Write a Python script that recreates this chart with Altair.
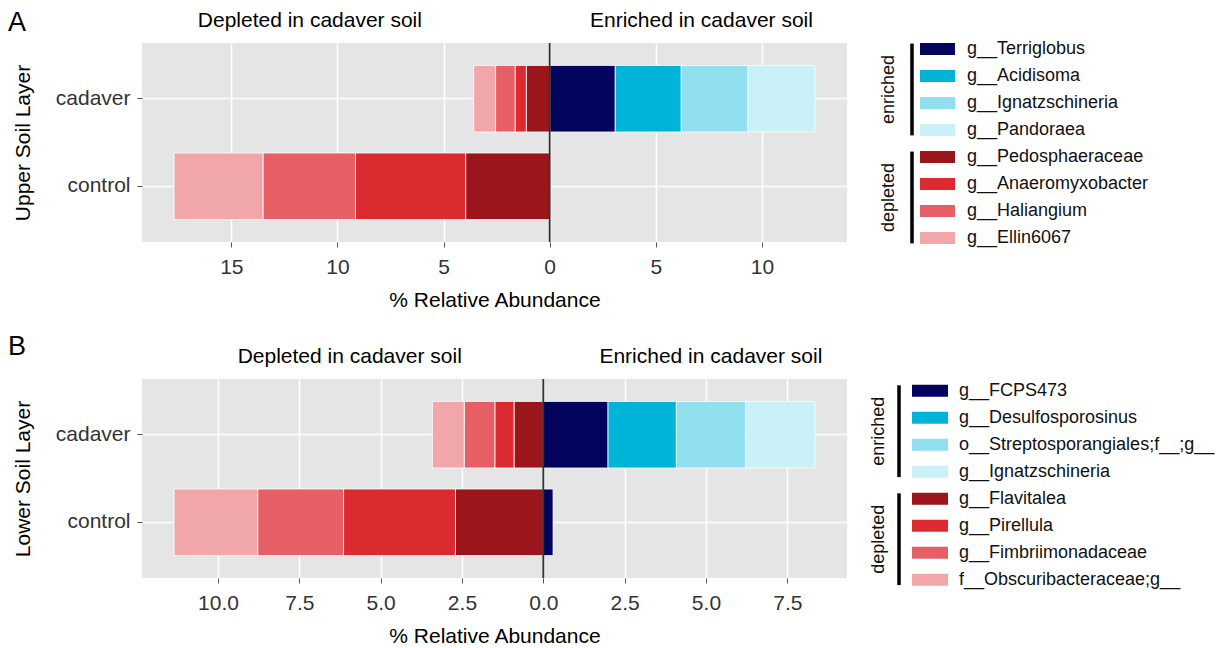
import altair as alt
import pandas as pd

# ---- data -------------------------------------------------------------
samples = ["cadaver", "control"]
group_names = ["enriched"] * 4 + ["depleted"] * 4

upper_taxa = ["g__Terriglobus", "g__Acidisoma", "g__Ignatzschineria", "g__Pandoraea",
              "g__Pedosphaeraceae", "g__Anaeromyxobacter", "g__Haliangium", "g__Ellin6067"]
upper_cadaver = [3.09, 3.11, 3.13, 3.17, -1.10, -0.53, -0.92, -1.03]
upper_control = [0.0, 0.0, 0.0, 0.0, -3.96, -5.19, -4.36, -4.19]

lower_taxa = ["g__FCPS473", "g__Desulfosporosinus", "o__Streptosporangiales;f__;g__",
              "g__Ignatzschineria", "g__Flavitalea", "g__Pirellula",
              "g__Fimbriimonadaceae", "f__Obscuribacteraceae;g__"]
lower_cadaver = [1.99, 2.10, 2.13, 2.13, -0.90, -0.59, -0.94, -0.98]
lower_control = [0.30, 0.0, 0.0, 0.0, -2.70, -3.44, -2.64, -2.57]

upper_ticks = [-15, -10, -5, 0, 5, 10]
lower_ticks = [-10, -7.5, -5, -2.5, 0, 2.5, 5, 7.5]

palette = ["#03045E", "#00B4D8", "#90E0EF", "#CAF0F8",
           "#9B161B", "#DB2B30", "#E65F64", "#F1A6A9"]

W, H = 705, 199
FONT = "Liberation Sans"


def panel(letter, letter_y, y_title, taxa, cadaver, control, ticks, label_expr,
          annot_x, legend_x, legend_top):
    rows = []
    for s, vals in zip(samples, [cadaver, control]):
        for i, (t, g, v) in enumerate(zip(taxa, group_names, vals)):
            rows.append({"sample": s, "taxon": t, "group": g, "value": v, "rank": i})
    df = pd.DataFrame(rows)

    # ggplot-style 5% expansion of the stacked extent
    pos = df[df.value > 0].groupby("sample").value.sum().max()
    neg = df[df.value < 0].groupby("sample").value.sum().min()
    pad = 0.05 * (pos - neg)
    x_dom = [neg - pad, pos + pad]

    color = alt.Color("taxon:N", scale=alt.Scale(domain=taxa, range=palette), legend=None)

    bars = alt.Chart(df).transform_filter("datum.value != 0").mark_bar(
        stroke="white", strokeWidth=0.8
    ).encode(
        x=alt.X("value:Q", stack="zero",
                scale=alt.Scale(domain=x_dom, nice=False, zero=False),
                axis=alt.Axis(values=ticks, labelExpr=label_expr,
                              title="% Relative Abundance")),
        y=alt.Y("sample:N", sort=samples,
                scale=alt.Scale(paddingInner=0.24, paddingOuter=0.256),
                axis=alt.Axis(title=y_title)),
        color=color,
        order=alt.Order("rank:Q"),
    )

    zero = alt.Chart(pd.DataFrame({"z": [0]})).mark_rule(
        color="#333333", strokeWidth=1.8
    ).encode(x="z:Q")

    annot = alt.Chart(pd.DataFrame({
        "label": ["Depleted in cadaver soil", "Enriched in cadaver soil"],
        "x": annot_x,
    })).mark_text(fontSize=21, color="black", align="center", baseline="middle").encode(
        x="x:Q", y=alt.value(-22), text="label:N"
    )

    tag = alt.Chart(pd.DataFrame({"t": [letter]})).mark_text(
        fontSize=27, color="black", align="center", baseline="middle"
    ).encode(x=alt.value(-125), y=alt.value(letter_y), text="t:N")

    main = alt.layer(bars, zero, annot, tag)

    # hand-built grouped legend on its own index scale
    leg = pd.DataFrame({"taxon": taxa, "group": group_names, "idx": list(range(len(taxa)))})
    step = 27.0
    d0 = -legend_top / step
    lscale = alt.Scale(domain=[d0, d0 + H / step], reverse=True, nice=False, zero=False)
    gx, rx, sx0, sx1, tx = legend_x

    swatch = alt.Chart(leg).transform_calculate(
        y0="datum.idx - 0.222", y1="datum.idx + 0.222"
    ).mark_rect().encode(
        x=alt.value(sx0), x2=alt.value(sx1),
        y=alt.Y("y0:Q", scale=lscale, axis=None), y2="y1:Q",
        color=color,
    )
    names = alt.Chart(leg).mark_text(
        align="left", baseline="middle", fontSize=18, color="#111111"
    ).encode(x=alt.value(tx), y=alt.Y("idx:Q", scale=lscale, axis=None), text="taxon:N")
    bracket = alt.Chart(leg).transform_aggregate(
        lo="min(idx)", hi="max(idx)", groupby=["group"]
    ).transform_calculate(
        a="datum.lo - 0.2", b="datum.hi + 0.2"
    ).mark_rule(color="black", strokeWidth=3.5).encode(
        x=alt.value(rx), y=alt.Y("a:Q", scale=lscale, axis=None), y2="b:Q"
    )
    gl = alt.Chart(leg).transform_aggregate(
        mid="mean(idx)", groupby=["group"]
    ).mark_text(angle=270, fontSize=18, color="#111111", align="center",
                baseline="middle").encode(
        x=alt.value(gx), y=alt.Y("mid:Q", scale=lscale, axis=None), text="group:N"
    )
    legend = alt.layer(swatch, names, bracket, gl)

    return alt.layer(main, legend).resolve_scale(y="independent").properties(
        width=W, height=H
    )


upper = panel("A", -20, "Upper Soil Layer", upper_taxa, upper_cadaver, upper_control,
              upper_ticks, "format(abs(datum.value), 'd')", [-11.3, 7.15],
              (747, 770, 778, 813, 825), 6)
lower = panel("B", -32, "Lower Soil Layer", lower_taxa, lower_cadaver, lower_control,
              lower_ticks, "format(abs(datum.value), '.1f')", [-5.95, 5.15],
              (737, 757, 770, 806, 817), 11.7)

chart = alt.vconcat(upper, lower, spacing=23).resolve_scale(
    color="independent"
).properties(
    padding={"left": 7, "top": 9, "right": 5, "bottom": 5}
).configure(
    font=FONT, background="white"
).configure_view(
    fill="#E5E5E5", stroke=None
).configure_axis(
    domain=False, grid=True, gridColor="white", gridWidth=1.6,
    labelFont=FONT, titleFont=FONT, labelFontSize=21, titleFontSize=21,
    labelColor="#333333", titleColor="black", titleFontWeight="normal",
    tickColor="#555555", tickSize=5, tickWidth=1,
).configure_axisX(
    labelPadding=9, titlePadding=12
).configure_axisY(
    labelPadding=7, titlePadding=22
)

chart.save("out.html", embed_options={"renderer": "svg", "actions": False})
